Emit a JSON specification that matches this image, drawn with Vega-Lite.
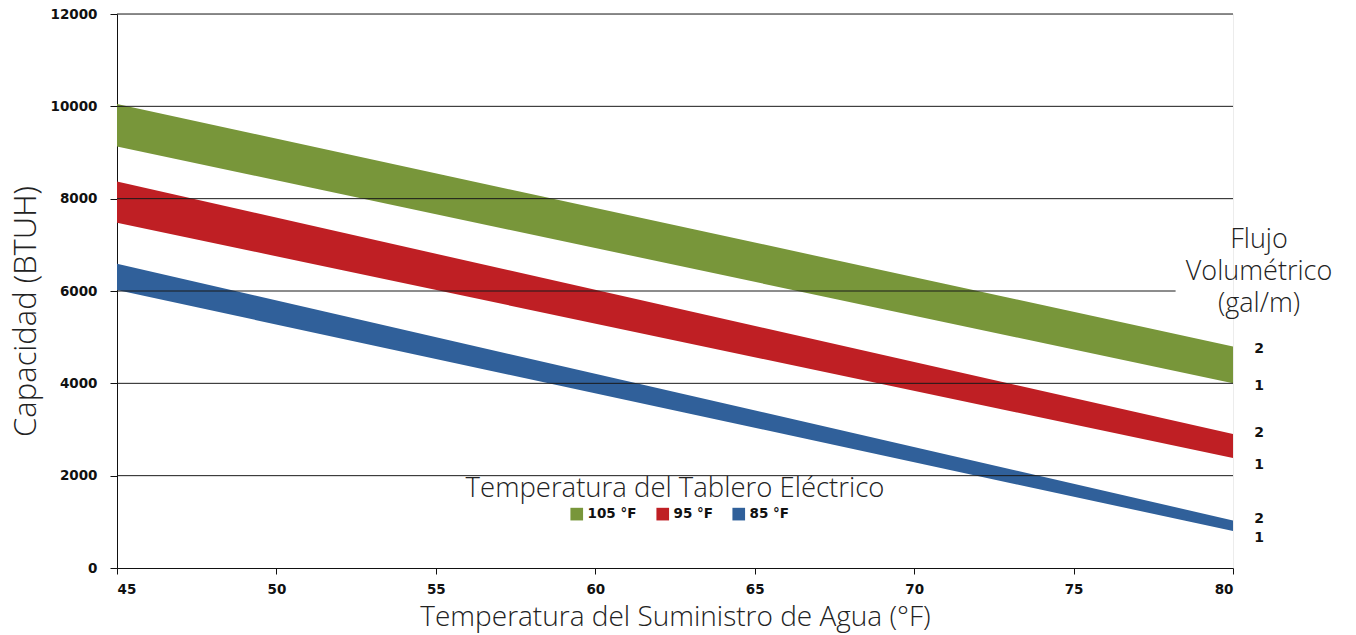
{
  "$schema": "https://vega.github.io/schema/vega-lite/v6.json",
  "width": 1116,
  "height": 554,
  "autosize": "none",
  "padding": {"left": 117, "top": 14, "right": 123, "bottom": 67},
  "background": "white",
  "config": {
    "view": {"stroke": "#ececec"},
    "font": "DejaVu Sans"
  },
  "title": {
    "text": "Temperatura del Tablero Eléctrico",
    "orient": "top",
    "anchor": "middle",
    "frame": "group",
    "offset": 0,
    "baseline": "alphabetic",
    "dy": 517,
    "font": "Open Sans",
    "fontWeight": 300,
    "fontSize": 27.5,
    "color": "#222"
  },
  "datasets": {
    "bands": [
      {"temp": "105 °F", "agua": 45, "low": 9130, "high": 10050},
      {"temp": "105 °F", "agua": 80, "low": 4000, "high": 4800},
      {"temp": "95 °F", "agua": 45, "low": 7480, "high": 8370},
      {"temp": "95 °F", "agua": 80, "low": 2380, "high": 2900},
      {"temp": "85 °F", "agua": 45, "low": 6020, "high": 6590},
      {"temp": "85 °F", "agua": 80, "low": 800, "high": 1030}
    ],
    "grid": [
      {"cap": 2000, "from": 45, "to": 80},
      {"cap": 4000, "from": 45, "to": 80},
      {"cap": 6000, "from": 45, "to": 78.2},
      {"cap": 8000, "from": 45, "to": 80},
      {"cap": 10000, "from": 45, "to": 80},
      {"cap": 12000, "from": 45, "to": 80}
    ],
    "flow": [
      {"agua": 80, "cap": 4740, "label": "2"},
      {"agua": 80, "cap": 3940, "label": "1"},
      {"agua": 80, "cap": 2930, "label": "2"},
      {"agua": 80, "cap": 2230, "label": "1"},
      {"agua": 80, "cap": 1060, "label": "2"},
      {"agua": 80, "cap": 640, "label": "1"}
    ],
    "flowTitle": [
      {"agua": 80, "cap": 7105, "label": "Flujo\nVolumétrico\n(gal/m)"}
    ]
  },
  "layer": [
    {
      "data": {"name": "bands"},
      "mark": {"type": "area", "opacity": 1},
      "encoding": {
        "x": {
          "field": "agua",
          "type": "quantitative",
          "title": "Temperatura del Suministro de Agua (°F)",
          "scale": {"domain": [45, 80], "nice": false, "zero": false},
          "axis": {
            "values": [45, 50, 55, 60, 65, 70, 75, 80],
            "grid": false,
            "domainColor": "#111",
            "tickColor": "#111",
            "tickSize": 6,
            "labelFont": "DejaVu Sans",
            "labelFontWeight": "bold",
            "labelFontSize": 13.5,
            "labelColor": "#111",
            "labelPadding": 8,
            "titleFont": "Open Sans",
            "titleFontWeight": 300,
            "titleFontSize": 28,
            "titleColor": "#222",
            "titleBaseline": "alphabetic",
            "titleY": 57
          }
        },
        "y": {
          "field": "low",
          "type": "quantitative",
          "title": "Capacidad (BTUH)",
          "scale": {"domain": [0, 12000], "nice": false},
          "axis": {
            "values": [0, 2000, 4000, 6000, 8000, 10000, 12000],
            "grid": false,
            "domainColor": "#111",
            "tickColor": "#111",
            "tickSize": 7,
            "labelFont": "DejaVu Sans",
            "labelFontWeight": "bold",
            "labelFontSize": 13.5,
            "labelColor": "#111",
            "labelPadding": 13,
            "format": "d",
            "titleFont": "Open Sans",
            "titleFontWeight": 300,
            "titleFontSize": 31,
            "titleColor": "#222",
            "titleAngle": 270,
            "titleBaseline": "alphabetic",
            "titleAlign": "center",
            "titleX": -82,
            "titleY": 297
          }
        },
        "y2": {"field": "high"},
        "color": {
          "field": "temp",
          "type": "nominal",
          "scale": {
            "domain": ["105 °F", "95 °F", "85 °F"],
            "range": ["#78963a", "#bf1f24", "#30609a"]
          },
          "legend": {
            "orient": "none",
            "direction": "horizontal",
            "legendX": 453,
            "legendY": 493,
            "title": null,
            "padding": 0,
            "symbolType": "square",
            "symbolSize": 160,
            "symbolStrokeWidth": 0,
            "symbolOpacity": 1,
            "labelFont": "DejaVu Sans",
            "labelFontWeight": "bold",
            "labelFontSize": 13.5,
            "labelColor": "#111",
            "labelOffset": 4,
            "columnPadding": 19
          }
        }
      }
    },
    {
      "data": {"name": "grid"},
      "mark": {"type": "rule", "color": "#1a1a1a", "strokeWidth": 1},
      "encoding": {
        "x": {"field": "from", "type": "quantitative", "title": "Temperatura del Suministro de Agua (°F)"},
        "x2": {"field": "to"},
        "y": {"field": "cap", "type": "quantitative", "title": "Capacidad (BTUH)"}
      }
    },
    {
      "data": {"name": "flow"},
      "mark": {"type": "text", "font": "DejaVu Sans", "fontWeight": "bold", "fontSize": 14, "align": "center", "baseline": "middle", "dx": 26, "color": "#111"},
      "encoding": {
        "x": {"field": "agua", "type": "quantitative", "title": "Temperatura del Suministro de Agua (°F)"},
        "y": {"field": "cap", "type": "quantitative", "title": "Capacidad (BTUH)"},
        "text": {"field": "label"}
      }
    },
    {
      "data": {"name": "flowTitle"},
      "mark": {"type": "text", "font": "Open Sans", "fontWeight": 300, "fontSize": 27, "align": "center", "baseline": "middle", "dx": 26, "lineBreak": "\n", "lineHeight": 32, "color": "#222"},
      "encoding": {
        "x": {"field": "agua", "type": "quantitative", "title": "Temperatura del Suministro de Agua (°F)"},
        "y": {"field": "cap", "type": "quantitative", "title": "Capacidad (BTUH)"},
        "text": {"field": "label"}
      }
    }
  ]
}
